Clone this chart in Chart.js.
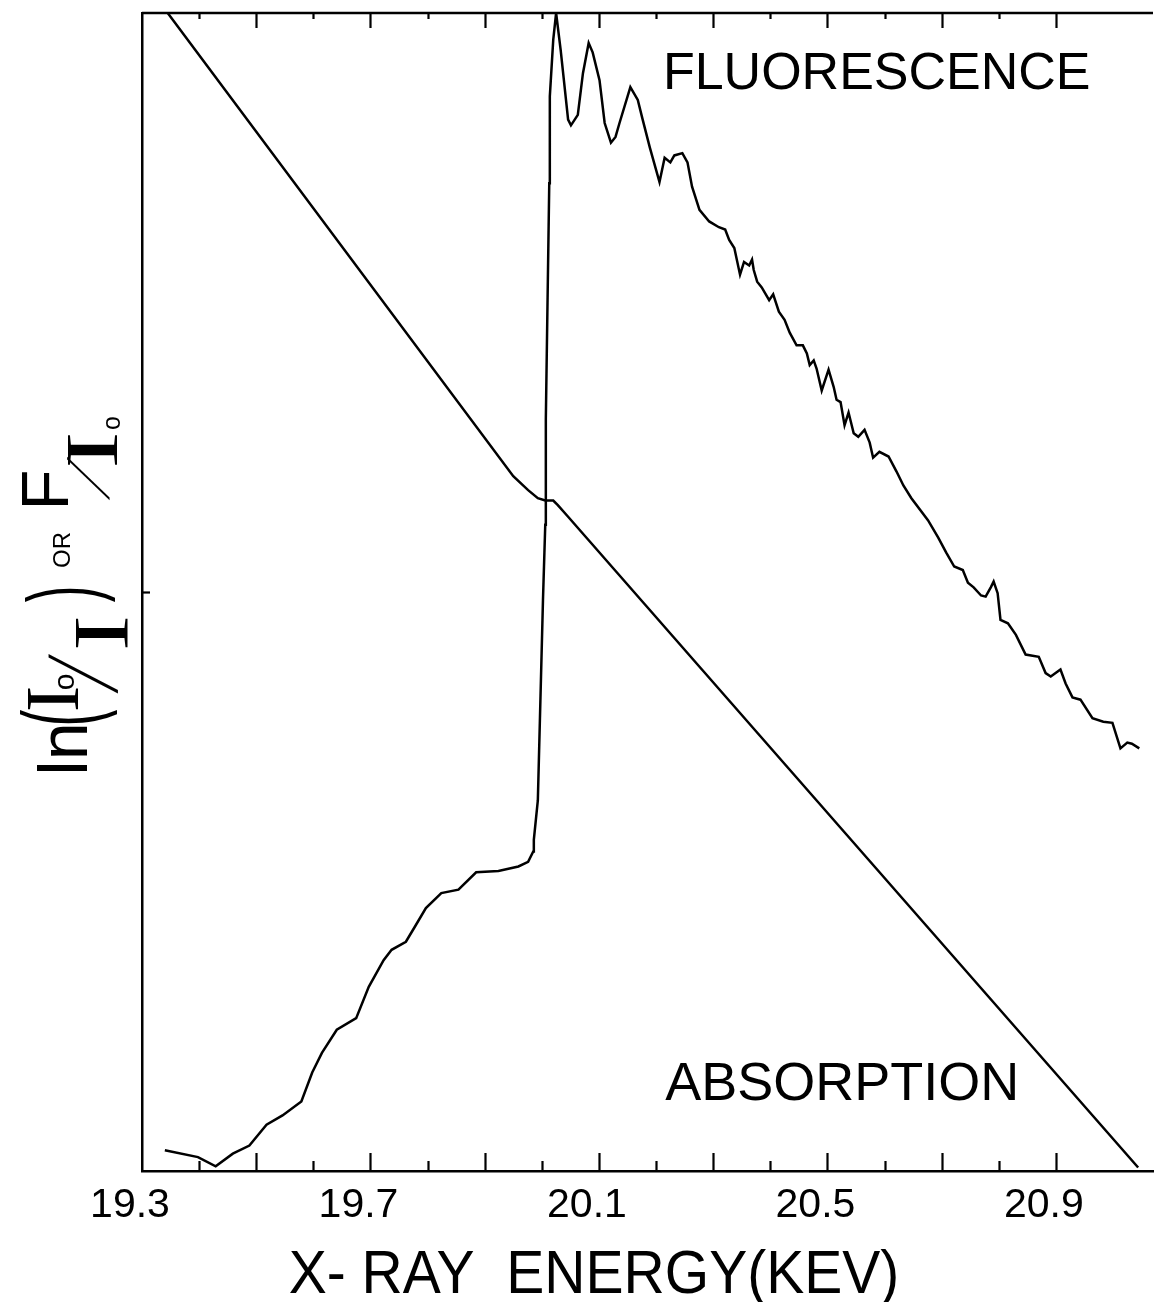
<!DOCTYPE html>
<html>
<head>
<meta charset="utf-8">
<script src="https://cdn.jsdelivr.net/npm/chart.js@4.4.0/dist/chart.umd.min.js"></script>
<style>
  html, body { margin: 0; padding: 0; background: #fff; }
  #wrap { width: 1163px; height: 1302px; }
</style>
</head>
<body>
<div id="wrap"><canvas id="xrayChart" width="1163" height="1302"></canvas></div>
<script>
// Fluorescence F/Io (arbitrary units, 0-100)
const fluorEnergy = [
  19.340, 19.398, 19.429, 19.459, 19.488, 19.518, 19.546, 19.579, 19.598, 19.615,
  19.641, 19.675, 19.697, 19.723, 19.737, 19.762, 19.779, 19.797, 19.824, 19.854,
  19.885, 19.924, 19.959, 19.976, 19.985, 19.986, 19.993, 20.002, 20.006, 20.007,
  20.013, 20.014, 20.020, 20.025, 20.033, 20.046, 20.051, 20.063, 20.072, 20.082,
  20.089, 20.101, 20.110, 20.121, 20.129, 20.136, 20.155, 20.168, 20.176, 20.189,
  20.206, 20.215, 20.225, 20.232, 20.246, 20.255, 20.263, 20.276, 20.293, 20.310,
  20.321, 20.328, 20.337, 20.347, 20.354, 20.363, 20.368, 20.371, 20.377, 20.385,
  20.398, 20.405, 20.415, 20.425, 20.434, 20.446, 20.457, 20.464, 20.469, 20.476,
  20.481, 20.490, 20.502, 20.511, 20.516, 20.523, 20.530, 20.537, 20.546, 20.554,
  20.565, 20.574, 20.580, 20.591, 20.607, 20.621, 20.633, 20.647, 20.676, 20.694,
  20.708, 20.722, 20.737, 20.746, 20.756, 20.769, 20.777, 20.786, 20.791, 20.798,
  20.803, 20.816, 20.830, 20.847, 20.870, 20.882, 20.891, 20.908, 20.917, 20.929,
  20.943, 20.964, 20.983, 20.999, 21.013, 21.025, 21.033, 21.046
];
const fluorSignal = [
  1.8, 1.2, 0.4, 1.5, 2.2, 4.0, 4.8, 6.0, 8.5, 10.2,
  12.2, 13.2, 15.9, 18.2, 19.1, 19.8, 21.2, 22.7, 24.0, 24.3,
  25.8, 25.9, 26.3, 26.7, 27.6, 28.6, 32.0, 49.3, 55.8, 64.9,
  85.3, 92.8, 97.7, 100.0, 96.8, 90.8, 90.3, 91.2, 94.8, 97.4,
  96.6, 94.2, 90.5, 88.8, 89.3, 90.5, 93.6, 92.5, 90.9, 88.4,
  85.4, 87.5, 87.1, 87.7, 87.9, 87.1, 85.0, 83.0, 82.0, 81.5,
  81.3, 80.4, 79.7, 77.4, 78.5, 78.2, 78.7, 77.8, 76.8, 76.3,
  75.2, 75.7, 74.2, 73.5, 72.4, 71.3, 71.3, 70.6, 69.6, 70.0,
  69.3, 67.4, 69.2, 67.7, 66.6, 66.4, 64.4, 65.5, 63.7, 63.4,
  64.0, 62.9, 61.6, 62.1, 61.7, 60.4, 59.2, 58.1, 56.2, 54.7,
  53.4, 52.2, 51.9, 50.8, 50.4, 49.7, 49.6, 50.4, 50.9, 49.9,
  47.6, 47.3, 46.3, 44.6, 44.4, 43.0, 42.7, 43.3, 42.1, 40.9,
  40.7, 39.1, 38.8, 38.7, 36.5, 37.0, 36.9, 36.5
];

// Absorption ln(Io/I)
const absEnergy = [19.345, 19.950, 19.976, 19.993, 20.006, 20.020, 20.028, 20.046, 21.044];
const absSignal = [100.0, 60.0, 58.8, 58.1, 57.9, 57.9, 57.5, 56.5, 0.3];

const xTickLabels = [19.3, 19.7, 20.1, 20.5, 20.9];
const yTickMarks = [50];

const curveLabels = [
  { text: "FLUORESCENCE", x: 20.212, y: 93.4, size: 52 },
  { text: "ABSORPTION", x: 20.216, y: 6.1, size: 54 }
];
const xTitle = "X- RAY  ENERGY(KEV)";

const toPoints = (xs, ys) => xs.map((x, i) => ({ x: x, y: ys[i] }));

const sans = "'Liberation Sans', Arial, sans-serif";
const serif = "'Liberation Serif', 'Times New Roman', serif";

// inward tick marks on bottom / top / left, top frame line and the texts
const framePlugin = {
  id: "frame",
  afterDraw(chart) {
    const { ctx, chartArea } = chart;
    const xs = chart.scales.x;
    const ys = chart.scales.y;
    ctx.save();
    ctx.strokeStyle = "#000";
    ctx.lineWidth = 2.5;
    ctx.beginPath();
    ctx.moveTo(chartArea.left, chartArea.top);
    ctx.lineTo(chartArea.right, chartArea.top);
    ctx.stroke();

    ctx.lineWidth = 2.2;
    xs.ticks.forEach((t) => {
      const tenth = Math.round(t.value * 10);
      if (Math.abs(t.value * 10 - tenth) > 1e-6) return;
      if (t.value <= xs.min + 1e-6) return;
      const major = tenth % 2 === 1;
      const px = Math.round(xs.getPixelForValue(t.value)) + 0.5;
      ctx.beginPath();
      ctx.moveTo(px, chartArea.bottom);
      ctx.lineTo(px, chartArea.bottom - (major ? 18 : 10));
      ctx.moveTo(px, chartArea.top);
      ctx.lineTo(px, chartArea.top + (major ? 15 : 6));
      ctx.stroke();
    });

    yTickMarks.forEach((v) => {
      const py = Math.round(ys.getPixelForValue(v)) + 0.5;
      ctx.beginPath();
      ctx.moveTo(chartArea.left, py);
      ctx.lineTo(chartArea.left + 8, py);
      ctx.stroke();
    });

    // curve names
    ctx.fillStyle = "#000";
    ctx.textAlign = "left";
    ctx.textBaseline = "alphabetic";
    curveLabels.forEach((c) => {
      ctx.font = c.size + "px " + sans;
      ctx.fillText(c.text, xs.getPixelForValue(c.x), ys.getPixelForValue(c.y));
    });

    // x axis title, a little left of the scale centre as in the original
    ctx.save();
    ctx.translate(594, 1293);
    ctx.scale(0.92, 1);
    ctx.textAlign = "center";
    ctx.font = "62px " + sans;
    ctx.fillText(xTitle, 0, 0);
    ctx.restore();
    ctx.restore();

    drawYTitle(ctx);
  }
};

// rotated axis title: ln(Io/I) OR F/Io
function drawYTitle(ctx) {
  ctx.save();
  ctx.translate(87, 777);
  ctx.rotate(-Math.PI / 2);
  ctx.fillStyle = "#000";
  ctx.textAlign = "center";
  ctx.textBaseline = "alphabetic";
  const piece = (text, u, v, font, sx = 1, sy = 1, skew = 0) => {
    ctx.save();
    ctx.translate(u, v);
    if (skew) ctx.transform(1, 0, -skew, 1, 0, 0);
    ctx.scale(sx, sy);
    ctx.font = font;
    ctx.fillText(text, 0, 0);
    ctx.restore();
  };
  piece("ln", 28, 0, "68px " + sans);
  piece("(", 59, 8, "50px " + sans, 1, 2.06);
  piece("I", 78, -9, "76px " + serif, 1.05, 1);
  piece("o", 95, -13, "30px " + sans);
  piece("/", 90, 30, "45px " + sans, 1, 2.1, 0.39);
  piece("I", 144, 40, "78px " + serif, 1.4, 1);
  piece(")", 183, 8, "50px " + sans, 1, 1.91);
  piece("OR", 227, -17, "24px " + sans);
  piece("F", 287, -19, "67px " + sans);
  piece("/", 282, 22, "34px " + sans, 1, 1.7, 0.8);
  piece("I", 327, 30, "75px " + serif, 1.5, 1);
  piece("o", 354, 33, "25px " + sans);
  ctx.restore();
}

new Chart(document.getElementById("xrayChart"), {
  type: "line",
  data: {
    datasets: [
      {
        label: "Fluorescence",
        data: toPoints(fluorEnergy, fluorSignal),
        borderColor: "#000",
        borderWidth: 2.5,
        pointRadius: 0,
        tension: 0,
        fill: false
      },
      {
        label: "Absorption",
        data: toPoints(absEnergy, absSignal),
        borderColor: "#000",
        borderWidth: 2.5,
        pointRadius: 0,
        tension: 0,
        fill: false
      }
    ]
  },
  options: {
    responsive: false,
    animation: false,
    layout: { padding: { top: 13, right: 4, bottom: 0, left: 0 } },
    plugins: {
      legend: { display: false },
      tooltip: { enabled: false }
    },
    scales: {
      x: {
        type: "linear",
        min: 19.3,
        max: 21.07,
        afterFit: (scale) => { scale.height = 131; },
        grid: { display: false, drawTicks: false },
        border: { display: true, color: "#000", width: 2.5 },
        ticks: {
          stepSize: 0.1,
          autoSkip: false,
          maxRotation: 0,
          padding: 10,
          labelOffset: -12,
          color: "#000",
          font: { family: sans, size: 41 },
          callback: (v) => xTickLabels.some((t) => Math.abs(t - v) < 1e-6) ? Number(v).toFixed(1) : ""
        }
      },
      y: {
        min: 0,
        max: 100,
        afterFit: (scale) => { scale.width = 142; },
        grid: { display: false, drawTicks: false },
        border: { display: true, color: "#000", width: 2.5 },
        ticks: { display: false }
      }
    }
  },
  plugins: [framePlugin]
});
</script>
</body>
</html>
